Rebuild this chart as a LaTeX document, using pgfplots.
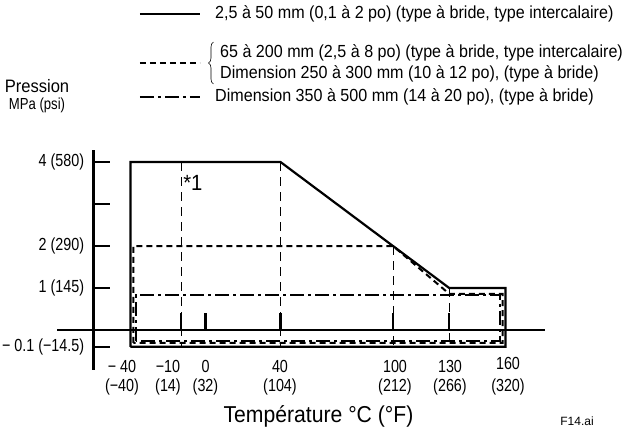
\documentclass[border=0pt]{standalone}
\usepackage{fontspec}
\setmainfont{Liberation Sans}
\newfontfamily\narrowA{Liberation Sans}[FakeStretch=0.82]
\newfontfamily\narrowB{Liberation Sans}[FakeStretch=0.92]
\usepackage{pgfplots}
\pgfplotsset{compat=1.18}
\usetikzlibrary{decorations.pathreplacing}

\tikzset{
  ssolid/.style={black, line width=2.2pt, line join=miter},
  sdash/.style={black, line width=2pt, dash pattern=on 6pt off 4pt},
  sdashdot/.style={black, line width=1.8pt, dash pattern=on 14pt off 4pt on 3pt off 4pt},
  sref/.style={black, line width=0.9pt, dash pattern=on 9pt off 6pt},
  lab/.style={font=\narrowA\fontsize{17.5}{19}\selectfont, inner sep=0pt},
  leg/.style={font=\narrowB\fontsize{17.5}{21}\selectfont, inner sep=0pt, align=left},
}

\begin{document}
\begin{tikzpicture}
\path[use as bounding box] (-205.5pt,-99pt) rectangle (416.5pt,330pt);
\begin{axis}[
  at={(0,0)}, anchor=origin,
  x=1.875pt, y=42pt,
  x coord trafo/.code={\pgfmathparse{#1<0 ? (#1<-10 ? -13+0.9*(#1+10) : 1.3*#1) : #1}},
  y coord trafo/.code={\pgfmathparse{#1<0 ? 4*#1 : #1}},
  xmin=-62, xmax=181, ymin=-0.238, ymax=4.286,
  axis x line=none, axis y line=left,
  axis line style={-, line width=2.5pt},
  ytick={-0.1,1,2,3,4},
  yticklabels={{− 0.1 (−14.5)},{1 (145)},{2 (290)},{},{4 (580)}},
  ytick align=inside,
  major tick length=17pt,
  ytick style={line width=2.5pt, black},
  yticklabel style={font=\narrowA\fontsize{17.5}{19}\selectfont, anchor=east, inner sep=0pt, xshift=-9pt},
  clip=false,
]
% reference (temperature) lines
\addplot[sref] coordinates {(-10,4) (-10,-0.1)};
\addplot[sref] coordinates {(40,4) (40,-0.1)};
\addplot[sref] coordinates {(100,2) (100,-0.1)};
\addplot[sref] coordinates {(130,1) (130,-0.1)};
% x ticks on the zero line
\addplot[black, line width=2.5pt, ycomb] coordinates {(-10,0.405) (0,0.405) (40,0.405) (100,0.405) (130,0.405)};
% 2,5 to 50 mm
\addplot[ssolid] coordinates {(-40,-0.1) (-40,4) (40,4) (130,1) (160,1) (160,-0.1) (-40,-0.1)};
% 65 to 300 mm
\addplot[sdash] coordinates {(-38.3,-0.077) (-38.3,2) (100,2) (130,0.86) (158.5,0.86) (158.5,-0.077) (-38.3,-0.077)};
% 350 to 500 mm
\addplot[sdashdot] coordinates {(-36.7,-0.065) (-36.7,0.83) (157,0.83) (157,-0.065) (-36.7,-0.065)};
% zero line
\draw[black, line width=2.5pt] (axis cs:-83.3,0) -- (axis cs:180.9,0);
\node[font=\narrowB\fontsize{22}{24}\selectfont, anchor=base west, inner sep=0pt] at (axis cs:-10,3.33) [xshift=2pt] {*1};
\end{axis}
% x tick labels
\node[lab, anchor=base] at (-83.5pt,-42pt) {− 40};
\node[lab, anchor=base] at (-83.5pt,-61pt) {(−40)};
\node[lab, anchor=base] at (-37.5pt,-42pt) {−10};
\node[lab, anchor=base] at (-37.5pt,-61pt) {(14)};
\node[lab, anchor=base] at (0pt,-42pt) {0};
\node[lab, anchor=base] at (0pt,-61pt) {(32)};
\node[lab, anchor=base] at (74.5pt,-42pt) {40};
\node[lab, anchor=base] at (74.5pt,-61pt) {(104)};
\node[lab, anchor=base] at (189.5pt,-42pt) {100};
\node[lab, anchor=base] at (189.5pt,-61pt) {(212)};
\node[lab, anchor=base] at (244.5pt,-42pt) {130};
\node[lab, anchor=base] at (244.5pt,-61pt) {(266)};
\node[lab, anchor=base] at (302.5pt,-39pt) {160};
\node[lab, anchor=base] at (302.5pt,-61pt) {(320)};
\node[font=\narrowB\fontsize{23}{26}\selectfont, anchor=base, inner sep=0pt] at (113pt,-92pt) {Température °C (°F)};
\node[font=\fontsize{12}{14}\selectfont, anchor=north, inner sep=0pt] at (371.5pt,-87pt) {F14.ai};
% y axis title
\node[font=\narrowB\fontsize{18}{20}\selectfont, inner sep=0pt, anchor=base] at (-168.5pt,237pt) {Pression};
\node[font=\narrowA\fontsize{16}{18}\selectfont, inner sep=0pt, anchor=north] at (-168.5pt,232pt) {MPa (psi)};
% legend
\draw[ssolid] (-65.5pt,316pt) -- (-5.5pt,316pt);
\node[leg, anchor=west] at (9.5pt,316pt) {2,5 à 50 mm (0,1 à 2 po) (type à bride, type intercalaire)};
\draw[sdash] (-65.5pt,267pt) -- (-5.5pt,267pt);
\draw[decorate, decoration={brace, amplitude=5pt}, line width=0.6pt] (8pt,246pt) -- (8pt,288pt);
\node[leg, anchor=west] at (14.5pt,267pt) {65 à 200 mm (2,5 à 8 po) (type à bride, type intercalaire)\\Dimension 250 à 300 mm (10 à 12 po), (type à bride)};
\draw[sdashdot] (-65.5pt,233pt) -- (-5.5pt,233pt);
\node[leg, anchor=west] at (9.5pt,233pt) {Dimension 350 à 500 mm (14 à 20 po), (type à bride)};
\end{tikzpicture}
\end{document}
